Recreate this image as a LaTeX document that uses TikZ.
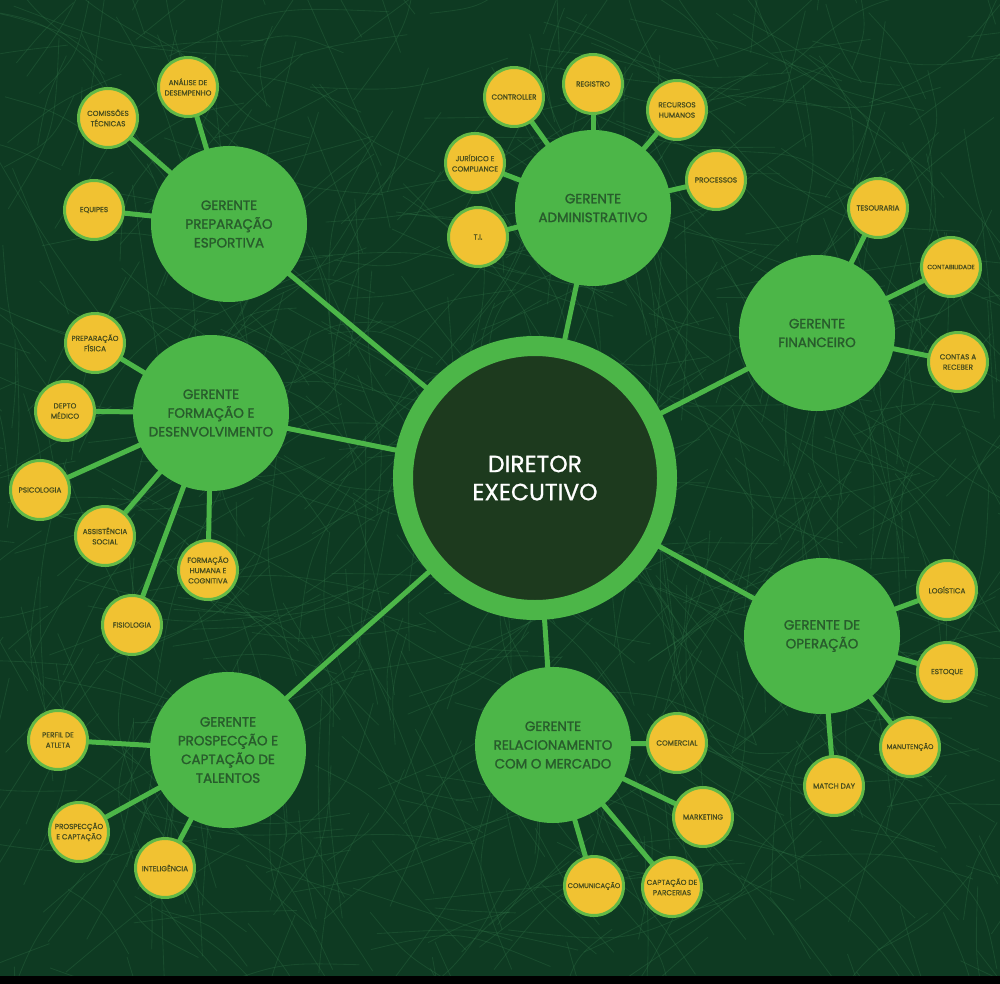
\documentclass[tikz,border=0pt]{standalone}
\usepackage{fontspec}
\setmainfont{Poppins}[FakeBold=0.9]
\newfontfamily\popmg{Poppins}[FakeBold=1.6]
\definecolor{bgdark}{HTML}{0E3A22}
\definecolor{grass}{HTML}{2E7045}
\definecolor{mgreen}{HTML}{4CB648}
\definecolor{bossdark}{HTML}{1D3A1E}
\definecolor{yel}{HTML}{F1C232}
\definecolor{yborder}{HTML}{62B946}
\definecolor{mtext}{HTML}{285C2C}
\definecolor{ytext}{HTML}{4A4E1E}
\pgfdeclarelayer{bglayer}
\pgfdeclarelayer{linklayer}
\pgfsetlayers{bglayer,linklayer,main}
\begin{document}
\begin{tikzpicture}[x=0.3mm,y=-0.3mm,
  mgr/.style={circle, fill=mgreen, minimum size=46.8mm, inner sep=0pt, align=center, text=mtext, font=\popmg\fontsize{11.5}{16}\selectfont},
  sub/.style={circle, fill=yel, draw=yborder, line width=0.9mm, minimum size=17.7mm, inner sep=0pt, align=center, text=ytext, font=\fontsize{6.2}{8.8}\selectfont},
  boss/.style={circle, fill=bossdark, draw=mgreen, line width=6mm, minimum size=79.2mm, inner sep=0pt, align=center, text=white, font=\fontsize{20}{24}\selectfont},
  link/.style={draw=mgreen, line width=1.5mm},
  grassline/.style={draw=grass, line width=0.25mm, opacity=0.35}]
\useasboundingbox (0,0) rectangle (1000,984);
\begin{pgfonlayer}{bglayer}
  \fill[bgdark] (0,0) rectangle (1000,984);
  \begin{scope}
    \clip (0,0) rectangle (1000,976);
    \pgfmathsetseed{42}
    \foreach \i in {1,...,750}{
      \pgfmathsetmacro{\ax}{rnd*1000}
      \pgfmathsetmacro{\ay}{rnd*984}
      \pgfmathsetmacro{\ang}{rnd*360}
      \pgfmathsetmacro{\len}{80+rnd*160}
      \pgfmathsetmacro{\bend}{rnd*40-20}
      \pgfmathsetmacro{\cx}{\ax+0.5*\len*cos(\ang)}
      \pgfmathsetmacro{\cy}{\ay+0.5*\len*sin(\ang)}
      \pgfmathsetmacro{\ex}{\ax+\len*cos(\ang+\bend)}
      \pgfmathsetmacro{\ey}{\ay+\len*sin(\ang+\bend)}
      \draw[grassline] (\ax,\ay) .. controls (\cx,\cy) .. (\ex,\ey);
    }
  \end{scope}
  \fill[black] (0,976) rectangle (1000,984);
\end{pgfonlayer}

% director
\node[boss] (dir) at (535,478) {DIRETOR\\EXECUTIVO};

% managers
\node[mgr] (prep) at (229,224) {GERENTE\\PREPARAÇÃO\\ESPORTIVA};
\node[mgr] (adm) at (593,208) {GERENTE\\ADMINISTRATIVO};
\node[mgr] (fin) at (817,333) {GERENTE\\FINANCEIRO};
\node[mgr] (form) at (211,413) {GERENTE\\FORMAÇÃO E\\DESENVOLVIMENTO};
\node[mgr] (prosp) at (228,750) {GERENTE\\PROSPECÇÃO E\\CAPTAÇÃO DE\\TALENTOS};
\node[mgr] (rel) at (553,745) {GERENTE\\RELACIONAMENTO\\COM O MERCADO};
\node[mgr] (op) at (822,636) {GERENTE DE\\OPERAÇÃO};

% preparacao
\node[sub] (p1) at (188,87) {ANÁLISE DE\\DESEMPENHO};
\node[sub] (p2) at (108,118) {COMISSÕES\\TÉCNICAS};
\node[sub] (p3) at (94,210) {EQUIPES};

% administrativo
\node[sub] (a1) at (514,97) {CONTROLLER};
\node[sub] (a2) at (593,84) {REGISTRO};
\node[sub] (a3) at (677,110) {RECURSOS\\HUMANOS};
\node[sub] (a4) at (716,180) {PROCESSOS};
\node[sub] (a5) at (475,163) {JURÍDICO E\\COMPLIANCE};
\node[sub] (a6) at (478,237) {T.I.};

% financeiro
\node[sub] (f1) at (878,208) {TESOURARIA};
\node[sub, font=\fontsize{5.3}{8}\selectfont] (f2) at (951,267) {CONTABILIDADE};
\node[sub] (f3) at (958,362) {CONTAS A\\RECEBER};

% formacao
\node[sub] (d1) at (95,343) {PREPARAÇÃO\\FÍSICA};
\node[sub] (d2) at (65,411) {DEPTO\\MÉDICO};
\node[sub] (d3) at (40,490) {PSICOLOGIA};
\node[sub] (d4) at (105,536) {ASSISTÊNCIA\\SOCIAL};
\node[sub] (d5) at (208,570) {FORMAÇÃO\\HUMANA E\\COGNITIVA};
\node[sub] (d6) at (132,625) {FISIOLOGIA};

% prospeccao
\node[sub] (s1) at (58,740) {PERFIL DE\\ATLETA};
\node[sub] (s2) at (79,832) {PROSPECÇÃO\\E CAPTAÇÃO};
\node[sub] (s3) at (165,868) {INTELIGÊNCIA};

% relacionamento
\node[sub] (r1) at (677,743) {COMERCIAL};
\node[sub] (r2) at (703,817) {MARKETING};
\node[sub] (r3) at (672,887) {CAPTAÇÃO DE\\PARCERIAS};
\node[sub, font=\fontsize{5.8}{8}\selectfont] (r4) at (594,886) {COMUNICAÇÃO};

% operacao
\node[sub] (o1) at (947,590) {LOGÍSTICA};
\node[sub] (o2) at (947,672) {ESTOQUE};
\node[sub, font=\fontsize{5.8}{8}\selectfont] (o3) at (910,747) {MANUTENÇÃO};
\node[sub] (o4) at (834,786) {MATCH DAY};

\begin{pgfonlayer}{linklayer}
  \foreach \m in {prep,adm,fin,form,prosp,rel,op}{\draw[link] (dir.center) -- (\m.center);}
  \foreach \s in {p1,p2,p3}{\draw[link] (prep.center) -- (\s.center);}
  \foreach \s in {a1,a2,a3,a4,a5,a6}{\draw[link] (adm.center) -- (\s.center);}
  \foreach \s in {f1,f2,f3}{\draw[link] (fin.center) -- (\s.center);}
  \foreach \s in {d1,d2,d3,d4,d5,d6}{\draw[link] (form.center) -- (\s.center);}
  \foreach \s in {s1,s2,s3}{\draw[link] (prosp.center) -- (\s.center);}
  \foreach \s in {r1,r2,r3,r4}{\draw[link] (rel.center) -- (\s.center);}
  \foreach \s in {o1,o2,o3,o4}{\draw[link] (op.center) -- (\s.center);}
\end{pgfonlayer}
\end{tikzpicture}
\end{document}
